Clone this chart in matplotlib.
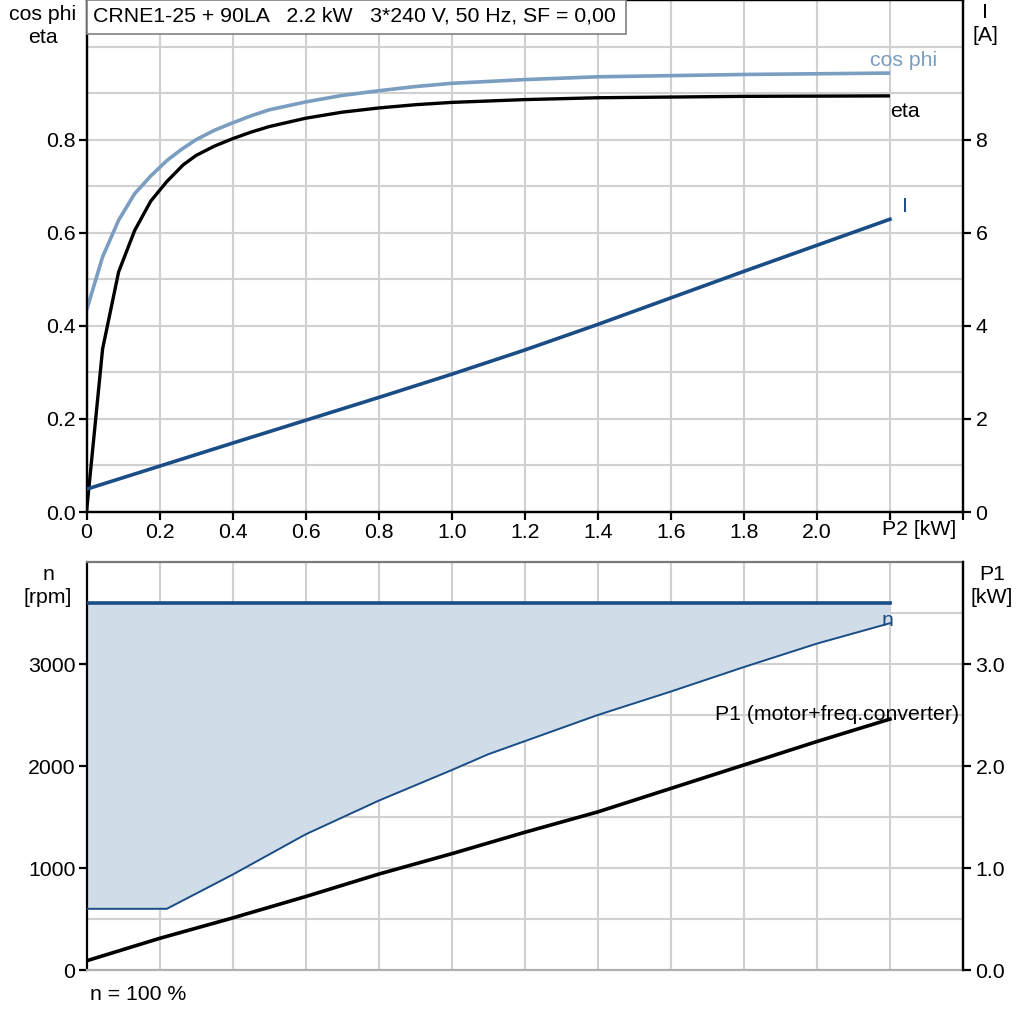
import matplotlib
matplotlib.use("Agg")
import matplotlib.pyplot as plt
from matplotlib.patches import Rectangle
import matplotlib.transforms as mtransforms

FS = 15.3
plt.rcParams['font.family'] = ['Liberation Sans', 'DejaVu Sans']
plt.rcParams['font.size'] = FS

# ---------------- data ----------------
title = "CRNE1-25 + 90LA   2.2 kW   3*240 V, 50 Hz, SF = 0,00"

p2_cos = [0.0, 0.044, 0.088, 0.132, 0.176, 0.22, 0.26, 0.3, 0.35, 0.4, 0.45, 0.5, 0.6, 0.7, 0.8, 0.9, 1.0, 1.2, 1.4, 1.8, 2.2]
cos_phi = [0.433, 0.548, 0.627, 0.684, 0.722, 0.755, 0.779, 0.800, 0.820, 0.836, 0.851, 0.864, 0.881, 0.895, 0.905, 0.914, 0.921, 0.929, 0.935, 0.940, 0.943]

p2_eta = [0.0, 0.044, 0.088, 0.132, 0.176, 0.22, 0.265, 0.3, 0.35, 0.4, 0.45, 0.5, 0.6, 0.7, 0.8, 0.9, 1.0, 1.2, 1.4, 1.8, 2.2]
eta = [0.0, 0.35, 0.516, 0.605, 0.668, 0.710, 0.746, 0.766, 0.786, 0.802, 0.816, 0.828, 0.846, 0.859, 0.868, 0.875, 0.880, 0.886, 0.890, 0.893, 0.894]

p2_I = [0.0, 0.4, 0.8, 1.0, 1.2, 1.4, 1.6, 1.8, 2.0, 2.2]
current = [0.49, 1.48, 2.46, 2.96, 3.48, 4.03, 4.60, 5.17, 5.73, 6.29]

p2_n = [0.0, 0.22, 0.4, 0.6, 0.8, 1.0, 1.1, 1.4, 1.6, 1.8, 2.0, 2.2]
n_min = [600, 600, 935, 1330, 1660, 1960, 2115, 2500, 2730, 2970, 3200, 3400]
p2_nmax = [0.0, 2.2]
n_max = [3600, 3600]

p2_p1 = [0.0, 0.2, 0.4, 0.6, 0.8, 1.0, 1.2, 1.4, 1.6, 1.8, 2.0, 2.2]
p1 = [0.09, 0.31, 0.51, 0.72, 0.94, 1.14, 1.35, 1.55, 1.78, 2.01, 2.24, 2.46]

x_ticks = [0.0, 0.2, 0.4, 0.6, 0.8, 1.0, 1.2, 1.4, 1.6, 1.8, 2.0, 2.2, 2.4]
x_labels = ["0", "0.2", "0.4", "0.6", "0.8", "1.0", "1.2", "1.4", "1.6", "1.8", "2.0", "", ""]
left_top_ticks = [0.0, 0.2, 0.4, 0.6, 0.8]
left_top_labels = ["0.0", "0.2", "0.4", "0.6", "0.8"]
right_top_ticks = [0, 2, 4, 6, 8]
left_bot_ticks = [0, 1000, 2000, 3000]
right_bot_ticks = [0.0, 1.0, 2.0, 3.0]
right_bot_labels = ["0.0", "1.0", "2.0", "3.0"]

# ---------------- style ----------------
C_COS = '#7a9dc0'
C_BLUE = '#1a4d86'
C_FILL = '#d0dce8'
C_GRID = '#d0d0d0'
W = 1024.0

fig = plt.figure(figsize=(10.24, 10.24), dpi=100)
fig.patch.set_facecolor('white')

def fx(px):
    return px / W

def fy(py):
    return 1 - py / W

# ---------------- top axes ----------------
ax1 = fig.add_axes([fx(86.5), fy(512), fx(963) - fx(86.5), fy(0) - fy(512)])
ax1.set_xlim(0, 2.4)
ax1.set_ylim(0, 1.1)
ax1.set_xticks(x_ticks)
ax1.set_xticklabels(x_labels)
ax1.set_yticks(left_top_ticks)
ax1.set_yticklabels(left_top_labels)
for v in [0.1 * i for i in range(1, 11)]:
    ax1.axhline(v, color=C_GRID, lw=1.5, zorder=0)
for v in x_ticks[1:-1]:
    ax1.axvline(v, color=C_GRID, lw=1.5, zorder=0)
for s in ax1.spines.values():
    s.set_color('black')
    s.set_linewidth(1.6)
ax1.tick_params(direction='out', length=6, width=1.6, pad=2)

ax1.plot(p2_cos, cos_phi, color=C_COS, lw=2.6, zorder=3, solid_capstyle='butt')
ax1.plot(p2_eta, eta, color='black', lw=2.4, zorder=3, solid_capstyle='butt')

ax1r = ax1.twinx()
ax1r.set_ylim(0, 11)
ax1r.set_yticks(right_top_ticks)
ax1r.tick_params(direction='out', length=6, width=1.6, pad=3)
for s in ax1r.spines.values():
    s.set_color('black')
    s.set_linewidth(1.6)
ax1r.plot(p2_I, current, color=C_BLUE, lw=2.6, zorder=3)

ax1.text(2.146, 0.97, "cos phi", color=C_COS, ha='left', va='center')
ax1.text(2.2, 0.86, "eta", color='black', ha='left', va='center')
ax1.text(2.24, 0.657, "I", color=C_BLUE, ha='center', va='center')

trans = mtransforms.blended_transform_factory(ax1.transData, ax1.transAxes)
ax1.text(2.178, -0.015, "P2 [kW]", transform=trans, ha='left', va='top')

# ---------------- bottom axes ----------------
ax2 = fig.add_axes([fx(86.5), fy(970), fx(963) - fx(86.5), fy(562) - fy(970)])
ax2.set_xlim(0, 2.4)
ax2.set_ylim(0, 4000)
ax2.set_xticks([])
ax2.set_yticks(left_bot_ticks)
for v in range(500, 4000, 500):
    ax2.axhline(v, color=C_GRID, lw=1.5, zorder=0)
for v in x_ticks[1:-1]:
    ax2.axvline(v, color=C_GRID, lw=1.5, zorder=0)
ax2.spines['left'].set_color('black')
ax2.spines['left'].set_linewidth(1.6)
ax2.spines['right'].set_color('black')
ax2.spines['right'].set_linewidth(1.6)
ax2.spines['top'].set_color('#7a7a7a')
ax2.spines['top'].set_linewidth(1.6)
ax2.spines['bottom'].set_color('#b0b0b0')
ax2.spines['bottom'].set_linewidth(1.6)
ax2.tick_params(axis='y', direction='out', length=6, width=1.6, pad=2)

ax2.fill_between(p2_n, n_min, 3600, color=C_FILL, lw=0, zorder=1)
ax2.plot(p2_nmax, n_max, color=C_BLUE, lw=2.6, zorder=3)
ax2.plot(p2_n, n_min, color=C_BLUE, lw=1.4, zorder=3)

ax2r = ax2.twinx()
ax2r.set_ylim(0, 4.0)
ax2r.set_yticks(right_bot_ticks)
ax2r.set_yticklabels(right_bot_labels)
ax2r.tick_params(direction='out', length=6, width=1.6, pad=3)
for name, s in ax2r.spines.items():
    s.set_visible(name == 'right')
ax2r.spines['right'].set_color('black')
ax2r.spines['right'].set_linewidth(1.6)
ax2r.plot(p2_p1, p1, color='black', lw=2.6, zorder=3)

ax2.text(2.193, 3430, "n", color=C_BLUE, ha='center', va='center')
ax2.text(2.055, 2500, "P1 (motor+freq.converter)", color='black', ha='center', va='center')

# ---------------- figure texts ----------------
rect = Rectangle((fx(87), fy(34)), fx(626) - fx(87), fy(0) - fy(34), transform=fig.transFigure,
                 facecolor='white', edgecolor='#808080', lw=1.2, zorder=10)
fig.patches.append(rect)
fig.text(fx(93), fy(16), title, ha='left', va='center', zorder=11)

fig.text(fx(43), fy(26), "cos phi\neta", ha='center', va='center', linespacing=1.25)
fig.text(fx(985), fy(24), "I\n[A]", ha='center', va='center', linespacing=1.3)
fig.text(fx(48), fy(586), "n\n[rpm]", ha='center', va='center', linespacing=1.3)
fig.text(fx(992), fy(586), "P1\n[kW]", ha='center', va='center', linespacing=1.3)
fig.text(fx(90), fy(995), "n = 100 %", ha='left', va='center')

fig.savefig("out.png", dpi=100, facecolor='white')
